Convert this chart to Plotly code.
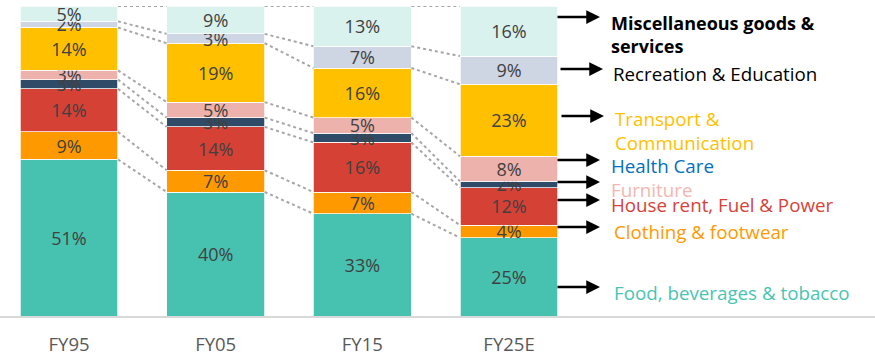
import plotly.graph_objects as go

years = ["FY95", "FY05", "FY15", "FY25E"]
food = [51, 40, 33, 25]
clothing = [9, 7, 7, 4]
house_rent = [14, 14, 16, 12]
furniture = [3, 3, 3, 2]
health_care = [3, 5, 5, 8]
transport = [14, 19, 16, 23]
recreation = [2, 3, 7, 9]
misc = [5, 9, 13, 16]

series = [
    ("Food, beverages & tobacco", food, "#48C2B0"),
    ("Clothing & footwear", clothing, "#FF9900"),
    ("House rent, Fuel & Power", house_rent, "#D64136"),
    ("Furniture", furniture, "#2F4B68"),
    ("Health Care", health_care, "#EEB2AC"),
    ("Transport & Communication", transport, "#FFC000"),
    ("Recreation & Education", recreation, "#CFD6E3"),
    ("Miscellaneous goods & services", misc, "#DAF2EE"),
]

BAR_W = 0.668
xs = list(range(len(years)))

fig = go.Figure()
for name, vals, col in series:
    fig.add_trace(go.Bar(
        x=xs, y=vals, name=name, width=BAR_W,
        marker=dict(color=col, line=dict(color="white", width=0.75)),
        text=vals, texttemplate="%{text}%",
        textposition="inside", insidetextanchor="middle", textangle=0,
        constraintext="none",
        textfont=dict(family="Open Sans", size=18, color="#404040"),
        hoverinfo="skip",
    ))

# dotted connectors between segment boundaries (normalised to 100%)
totals = [sum(s[1][k] for s in series) for k in xs]
cum = [0.0] * len(xs)
for name, vals, col in series:
    cum = [cum[k] + vals[k] for k in xs]
    norm = [cum[k] / totals[k] * 100 for k in xs]
    cx, cy = [], []
    for k in xs[:-1]:
        cx += [k + BAR_W / 2, k + 1 - BAR_W / 2, None]
        cy += [norm[k], norm[k + 1], None]
    fig.add_trace(go.Scatter(
        x=cx, y=cy, mode="lines",
        line=dict(color="#A6A6A6", width=2, dash="dot"),
        hoverinfo="skip", showlegend=False,
    ))

W, H = 875, 355
T, B = 6, 39
PH = H - T - B

def py(ypx):
    return (H - B - ypx) / PH

annotations = []
arrow_y = [17, 69, 116, 160, 182, 200, 227, 287]
arrow_x = [556, 559, 560, 556, 556, 556, 556, 556]
for ax_, ay_ in zip(arrow_x, arrow_y):
    annotations.append(dict(
        xref="paper", yref="paper", x=(ax_ + 44) / W, y=py(ay_),
        ax=-44, ay=0, axref="pixel", ayref="pixel",
        text="", showarrow=True, arrowhead=2, arrowsize=1.1,
        arrowwidth=2.5, arrowcolor="#000000",
    ))

labels = [
    ("<b>Miscellaneous goods &<br>services</b>", "#000000", 35, 609, 18),
    ("Recreation & Education", "#000000", 73, 611, 18.75),
    ("Transport &<br>Communication", "#FFC000", 130, 613, 18.75),
    ("Health Care", "#0070C0", 165, 609, 18.75),
    ("Furniture", "#F4B6AF", 189, 609, 18.75),
    ("House rent, Fuel & Power", "#D6423A", 205, 609, 18.75),
    ("Clothing & footwear", "#FF9900", 231, 612, 18.75),
    ("Food, beverages & tobacco", "#4AC4B2", 292, 612, 18.75),
]
for txt, col, ypx, xpx, fs in labels:
    annotations.append(dict(
        xref="paper", yref="paper", x=xpx / W, y=py(ypx),
        xanchor="left", yanchor="middle", align="left",
        text=txt, showarrow=False,
        font=dict(family="Open Sans", size=fs, color=col),
    ))

c0 = 69
step = (509 - 69) / 3
fig.update_layout(
    barmode="stack", barnorm="percent",
    width=W, height=H,
    margin=dict(l=0, r=0, t=T, b=B),
    plot_bgcolor="white", paper_bgcolor="white",
    showlegend=False,
    font=dict(family="Open Sans"),
    xaxis=dict(
        range=[-c0 / step, (W - c0) / step],
        tickvals=xs, ticktext=years,
        showgrid=False, zeroline=False,
        showline=True, linecolor="#D9D9D9", linewidth=2,
        tickfont=dict(family="Open Sans", size=18.5, color="#595959"),
        ticklabelstandoff=11, automargin=False,
    ),
    yaxis=dict(range=[0, 100], visible=False),
    annotations=annotations,
)

fig.write_html(
    "out.html",
    config={"displayModeBar": False, "staticPlot": True},
    post_script="document.body.style.margin='0';document.body.style.overflow='hidden';",
)
